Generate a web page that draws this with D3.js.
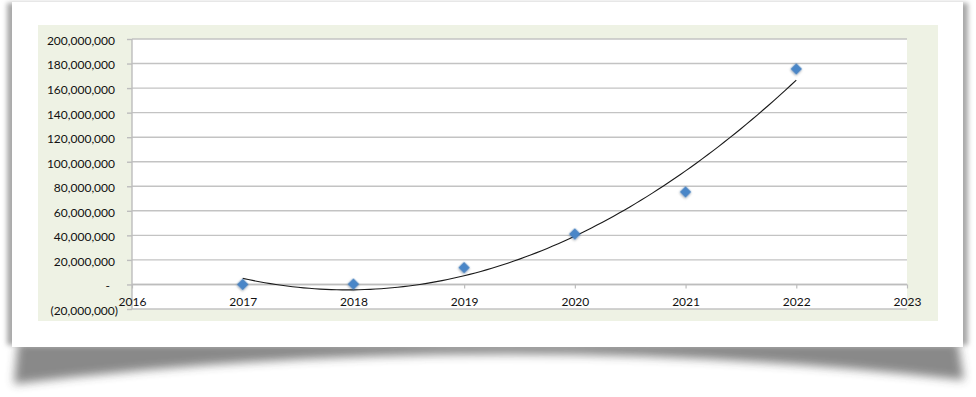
<!DOCTYPE html>
<html>
<head>
<meta charset="utf-8">
<script src="https://cdn.jsdelivr.net/npm/d3@7"></script>
<style>
  html, body { margin: 0; padding: 0; background: #ffffff; }
  svg { display: block; }
  text { font-family: Lato, "Open Sans", sans-serif; font-size: 12px; fill: #111; }
</style>
</head>
<body>
<svg id="chart" width="976" height="397"></svg>
<script>
// ---- data ----
const years = [2017, 2018, 2019, 2020, 2021, 2022];
const values = [0, 300000, 13700000, 41100000, 75400000, 175600000];
const yTicks = [-20000000, 0, 20000000, 40000000, 60000000, 80000000, 100000000,
                120000000, 140000000, 160000000, 180000000, 200000000];
const xTicks = [2016, 2017, 2018, 2019, 2020, 2021, 2022, 2023];

const svg = d3.select("#chart");
const defs = svg.append("defs");
defs.append("filter").attr("id", "blurBig").attr("x", "-10%").attr("y", "-50%").attr("width", "120%").attr("height", "200%")
  .append("feGaussianBlur").attr("stdDeviation", 5);
defs.append("filter").attr("id", "blurSide").attr("x", "-10%").attr("y", "-10%").attr("width", "120%").attr("height", "120%")
  .append("feGaussianBlur").attr("stdDeviation", 2.5);
const ds = defs.append("filter").attr("id", "markShadow").attr("x", "-50%").attr("y", "-50%").attr("width", "200%").attr("height", "200%");
ds.append("feDropShadow").attr("dx", 0.5).attr("dy", 1).attr("stdDeviation", 0.8).attr("flood-color", "#000").attr("flood-opacity", 0.35);

// ---- card with lifted-corner shadow ----
svg.append("path")
  .attr("d", "M18 342 L958 342 L964 380 Q490 326 14 384 Z")
  .attr("fill", "#3a3a3a")
  .attr("opacity", 0.6)
  .attr("filter", "url(#blurBig)");
svg.append("rect")
  .attr("x", 7).attr("y", 3).attr("width", 961).attr("height", 342)
  .attr("fill", "#a8a8a8")
  .attr("filter", "url(#blurSide)");
svg.append("rect")
  .attr("x", 12).attr("y", 2).attr("width", 951).attr("height", 345)
  .attr("fill", "#ffffff");

// green chart panel
svg.append("rect")
  .attr("x", 38).attr("y", 25).attr("width", 900).attr("height", 296)
  .attr("fill", "#eef2e4");

// ---- scales ----
const x = d3.scaleLinear().domain([2016, 2023]).range([132, 907]);
const y = d3.scaleLinear().domain([-20000000, 200000000]).range([309, 39]);

// plot area
svg.append("rect")
  .attr("x", x(2016)).attr("y", y(200000000))
  .attr("width", x(2023) - x(2016)).attr("height", y(-20000000) - y(200000000))
  .attr("fill", "#ffffff");

// gridlines
svg.append("g").selectAll("line").data(yTicks).join("line")
  .attr("x1", x(2016)).attr("x2", x(2023))
  .attr("y1", d => y(d)).attr("y2", d => y(d))
  .attr("stroke", "#c3c3c3").attr("stroke-width", 1.4);

// y axis
const fmt = d3.format(",");
const yAxis = d3.axisLeft(y).tickValues(yTicks).tickSize(5).tickPadding(12)
  .tickFormat(d => d === 0 ? "-" : (d < 0 ? "(" + fmt(-d) + ")" : fmt(d)));
const gy = svg.append("g").attr("transform", `translate(${x(2016)},0)`).call(yAxis);
gy.select(".domain").attr("stroke", "#bdbdbd").attr("stroke-width", 1.4).attr("d", `M0,${y(200000000)}V${y(-20000000)}`);
gy.selectAll(".tick line").attr("stroke", "#bdbdbd").attr("stroke-width", 1.4);
gy.selectAll(".tick text")
  .style("font-family", "Lato, 'Open Sans', sans-serif").style("font-size", "12px").attr("fill", "#111")
  .attr("dy", "0.45em")
  .attr("x", d => d < 0 ? -14 : (d === 0 ? -22 : -17));

// x axis (at zero)
const xAxis = d3.axisBottom(x).tickValues(xTicks).tickSize(4).tickPadding(10).tickFormat(d3.format("d"));
const gx = svg.append("g").attr("transform", `translate(0,${y(0)})`).call(xAxis);
gx.select(".domain").attr("stroke", "#bdbdbd").attr("stroke-width", 1.4).attr("d", `M${x(2016)},0H${x(2023)}`);
gx.selectAll(".tick line").attr("stroke", "#bdbdbd").attr("stroke-width", 1.2);
gx.selectAll(".tick text")
  .style("font-family", "Lato, 'Open Sans', sans-serif").style("font-size", "12px").attr("fill", "#111")
  .attr("y", 13);

// ---- polynomial (order 2) trendline by least squares ----
function quadFit(xs, ys) {
  let S = [0, 0, 0, 0, 0], T = [0, 0, 0];
  xs.forEach((xv, i) => {
    for (let k = 0; k < 5; k++) S[k] += Math.pow(xv, k);
    for (let k = 0; k < 3; k++) T[k] += Math.pow(xv, k) * ys[i];
  });
  const A = [[S[0], S[1], S[2], T[0]], [S[1], S[2], S[3], T[1]], [S[2], S[3], S[4], T[2]]];
  for (let i = 0; i < 3; i++) {
    for (let j = i + 1; j < 3; j++) {
      const f = A[j][i] / A[i][i];
      for (let k = i; k < 4; k++) A[j][k] -= f * A[i][k];
    }
  }
  const c = [0, 0, 0];
  for (let i = 2; i >= 0; i--) {
    let s = A[i][3];
    for (let k = i + 1; k < 3; k++) s -= A[i][k] * c[k];
    c[i] = s / A[i][i];
  }
  return c;
}
const x0 = years[0];
const coef = quadFit(years.map(v => v - x0), values);
const trendPts = d3.range(0, 101).map(i => {
  const t = years[0] + (years[years.length - 1] - years[0]) * i / 100;
  const u = t - x0;
  return [t, coef[0] + coef[1] * u + coef[2] * u * u];
});
svg.append("path")
  .datum(trendPts)
  .attr("d", d3.line().x(d => x(d[0])).y(d => y(d[1])).curve(d3.curveLinear))
  .attr("fill", "none").attr("stroke", "#1a1a1a").attr("stroke-width", 1.1);

// ---- markers ----
const sym = d3.symbol().type(d3.symbolSquare).size(58);
svg.append("g").selectAll("path").data(years).join("path")
  .attr("d", sym)
  .attr("transform", (d, i) => `translate(${x(d)},${y(values[i])}) rotate(45)`)
  .attr("fill", "#4a86c8")
  .attr("stroke", "#3d78b8").attr("stroke-width", 0.6)
  .attr("filter", "url(#markShadow)");
</script>
</body>
</html>
